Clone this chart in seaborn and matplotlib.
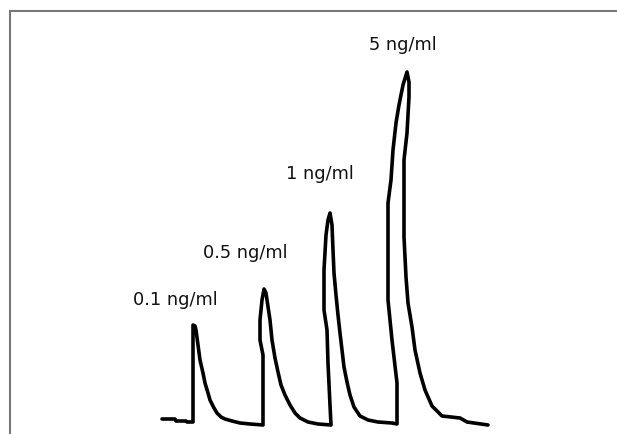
import numpy as np
import pandas as pd
import matplotlib
matplotlib.use("Agg")
import matplotlib.pyplot as plt
import seaborn as sns

# trace: time (arbitrary units) and signal (arbitrary units)
time = [2, 15, 16, 26, 27, 33, 33, 35, 36, 38, 40, 43, 45, 48, 50, 54, 57, 61, 65, 72, 80, 90,
        103, 103, 100, 100, 102, 104, 106, 107, 110, 112, 115, 118, 121, 125, 130, 135, 140, 148, 158,
        171, 170, 168, 167, 164, 164, 166, 168, 170, 172, 173, 174, 176, 178, 180, 182, 184, 187, 190,
        194, 200, 208, 218, 232,
        237, 237, 232, 228, 228, 231, 233, 236, 239, 243, 247, 249, 249, 247, 244, 244, 246, 248, 252,
        255, 260, 265, 272, 282, 300, 307, 328]
signal = [6, 6, 4, 4, 3, 3, 100, 99, 95, 80, 65, 52, 42, 32, 25, 17, 12, 8, 6, 4, 2, 1,
          0, 70, 85, 105, 125, 136, 132, 125, 105, 85, 67, 53, 40, 30, 20, 12, 7, 3, 1,
          0, 20, 62, 95, 115, 155, 190, 205, 212, 200, 175, 152, 130, 110, 92, 75, 58, 43, 30,
          18, 9, 5, 3, 2,
          1, 42, 85, 125, 222, 245, 275, 302, 320, 340, 353, 343, 328, 292, 265, 188, 148, 122, 98,
          75, 52, 35, 19, 9, 7, 3, 0]

labels = ["0.1 ng/ml", "0.5 ng/ml", "1 ng/ml", "5 ng/ml"]
label_time = [15, 85, 160, 243]
label_signal = [125, 172, 251, 380]

df = pd.DataFrame({"time": time, "signal": signal})

sns.set_style("white")
fig = plt.figure(figsize=(6.17, 4.34), dpi=100)
ax = fig.add_axes([10 / 617, 0, 607 / 617, 423 / 434])

sns.lineplot(data=df, x="time", y="signal", sort=False, estimator=None,
             color="black", linewidth=2.6, ax=ax)

for lab, tx, ty in zip(labels, label_time, label_signal):
    ax.text(tx, ty, lab, ha="center", va="center", fontsize=12.8,
            family="DejaVu Sans", color="#111111")

ax.set_xlim(-150, 457)
ax.set_ylim(-9, 414)
ax.set_xticks([])
ax.set_yticks([])
ax.set_xlabel("")
ax.set_ylabel("")
for side in ["bottom", "right"]:
    ax.spines[side].set_visible(False)
for side in ["top", "left"]:
    ax.spines[side].set_color("#777777")
    ax.spines[side].set_linewidth(1.5)

fig.savefig("out.png", dpi=100)
